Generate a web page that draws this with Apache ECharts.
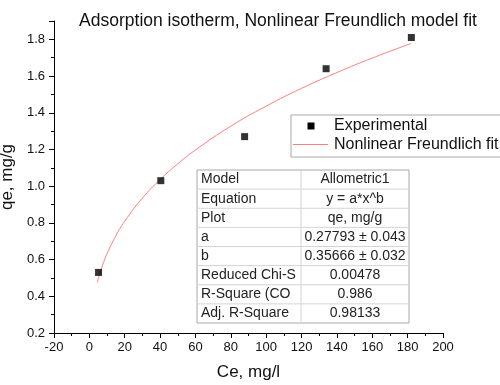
<!DOCTYPE html>
<html>
<head>
<meta charset="utf-8">
<script src="https://cdn.jsdelivr.net/npm/echarts@6/dist/echarts.min.js"></script>
<style>
html,body{margin:0;padding:0;background:#fff;}
#chart{width:500px;height:385px;}
</style>
</head>
<body>
<div id="chart"></div>
<script>
// ---- Data ----
const titleText = 'Adsorption isotherm, Nonlinear Freundlich model fit';
const xName = 'Ce, mg/l';
const yName = 'qe, mg/g';
const expX = [5.2, 40.4, 87.8, 133.9, 182.1];
const expY = [0.53, 1.03, 1.27, 1.64, 1.81];
const fitX = [4.5, 6, 8, 10, 15, 20, 30, 40, 50, 60, 80, 100, 120, 140, 160, 182];
const fitY = [0.475, 0.527, 0.583, 0.632, 0.730, 0.809, 0.935, 1.036, 1.122, 1.197, 1.327, 1.436, 1.533, 1.619, 1.698, 1.778];
const seriesNames = ['Experimental', 'Nonlinear Freundlich fit'];
const tableLabels = ['Model', 'Equation', 'Plot', 'a', 'b', 'Reduced Chi-S', 'R-Square (CO', 'Adj. R-Square'];
const tableValues = ['Allometric1', 'y = a*x^b', 'qe, mg/g', '0.27793 \u00b1 0.043', '0.35666 \u00b1 0.032', '0.00478', '0.986', '0.98133'];

const FONT = '"Liberation Sans", Arial, sans-serif';

const chart = echarts.init(document.getElementById('chart'), null, {renderer: 'canvas'});

// table graphics
const tbl = {x: 197, y: 170, w: 212, h: 153, div: 301};
const rowH = tbl.h / tableLabels.length;
const tableEls = [];
tableEls.push({type: 'rect', shape: {x: tbl.x, y: tbl.y, width: tbl.w, height: tbl.h},
  style: {fill: '#fff', stroke: '#a8a8a8', lineWidth: 1}, z: 10});
for (let i = 1; i < tableLabels.length; i++) {
  tableEls.push({type: 'line', shape: {x1: tbl.x, y1: tbl.y + rowH * i, x2: tbl.x + tbl.w, y2: tbl.y + rowH * i},
    style: {stroke: '#d4d4d4', lineWidth: 1}, z: 11});
}
tableEls.push({type: 'line', shape: {x1: tbl.div, y1: tbl.y, x2: tbl.div, y2: tbl.y + tbl.h},
  style: {stroke: '#d4d4d4', lineWidth: 1}, z: 11});
tableLabels.forEach((t, i) => {
  tableEls.push({type: 'text', x: tbl.x + 4, y: tbl.y + rowH * (i + 0.5), z: 12,
    style: {text: t, fill: '#222', font: '14px ' + FONT, textAlign: 'left', textVerticalAlign: 'middle'}});
});
tableValues.forEach((t, i) => {
  tableEls.push({type: 'text', x: (tbl.div + tbl.x + tbl.w) / 2, y: tbl.y + rowH * (i + 0.5), z: 12,
    style: {text: t, fill: '#222', font: '14px ' + FONT, textAlign: 'center', textVerticalAlign: 'middle'}});
});

// legend graphics
const lg = {x: 291, y: 115, w: 215, h: 42};
const legendEls = [
  {type: 'rect', shape: {x: lg.x, y: lg.y, width: lg.w, height: lg.h},
    style: {fill: '#fff', stroke: '#a8a8a8', lineWidth: 1}, z: 10},
  {type: 'rect', shape: {x: 307.5, y: 122.5, width: 7, height: 7}, style: {fill: '#000'}, z: 11},
  {type: 'line', shape: {x1: 293, y1: 144.5, x2: 328, y2: 144.5}, style: {stroke: '#ff8080', lineWidth: 1}, z: 11},
  {type: 'text', x: 334, y: 126, z: 11,
    style: {text: seriesNames[0], fill: '#111', font: '16px ' + FONT, textVerticalAlign: 'middle'}},
  {type: 'text', x: 334, y: 145, z: 11,
    style: {text: seriesNames[1], fill: '#111', font: '16px ' + FONT, textVerticalAlign: 'middle'}}
];

const option = {
  backgroundColor: '#fff',
  animation: false,
  title: {
    text: titleText, left: 273, top: 7, textAlign: 'center',
    textStyle: {fontFamily: FONT, fontSize: 17.5, fontWeight: 'normal', color: '#111'}
  },
  grid: {left: 54, right: 57, top: 21, bottom: 52, containLabel: false, outerBoundsMode: 'none'},
  xAxis: {
    type: 'value', min: -20, max: 200, interval: 20,
    name: xName, nameLocation: 'middle', nameGap: 31,
    nameTextStyle: {fontFamily: FONT, fontSize: 17, color: '#111'},
    axisLine: {show: true, onZero: false, lineStyle: {color: '#000', width: 1}},
    axisTick: {show: true, inside: false, length: 5, lineStyle: {color: '#000'}},
    minorTick: {show: true, splitNumber: 2, length: 3, lineStyle: {color: '#000'}},
    splitLine: {show: false},
    axisLabel: {fontFamily: FONT, fontSize: 13, color: '#111', margin: 8}
  },
  yAxis: {
    type: 'value', min: 0.2, max: 1.9, interval: 0.2,
    name: yName, nameLocation: 'middle', nameGap: 35, nameRotate: 90,
    nameTextStyle: {fontFamily: FONT, fontSize: 17, color: '#111'},
    axisLine: {show: true, onZero: false, lineStyle: {color: '#000', width: 1}},
    axisTick: {show: true, inside: false, length: 5, lineStyle: {color: '#000'}},
    minorTick: {show: true, splitNumber: 2, length: 3, lineStyle: {color: '#000'}},
    splitLine: {show: false},
    axisLabel: {fontFamily: FONT, fontSize: 13, color: '#111', margin: 9,
      showMaxLabel: false,
      formatter: v => (Math.abs(v - 1.9) < 1e-6 ? '' : v.toFixed(1))}
  },
  series: [
    {
      name: seriesNames[1], type: 'line', data: fitX.map((x, i) => [x, fitY[i]]),
      showSymbol: false, symbol: 'none', smooth: true,
      lineStyle: {color: '#ff8080', width: 1}, z: 2
    },
    {
      name: seriesNames[0], type: 'scatter', data: expX.map((x, i) => [x, expY[i]]),
      symbol: 'rect', symbolSize: 7, itemStyle: {color: '#000'}, z: 3
    }
  ],
  graphic: legendEls.concat(tableEls)
};
chart.setOption(option);
</script>
</body>
</html>
